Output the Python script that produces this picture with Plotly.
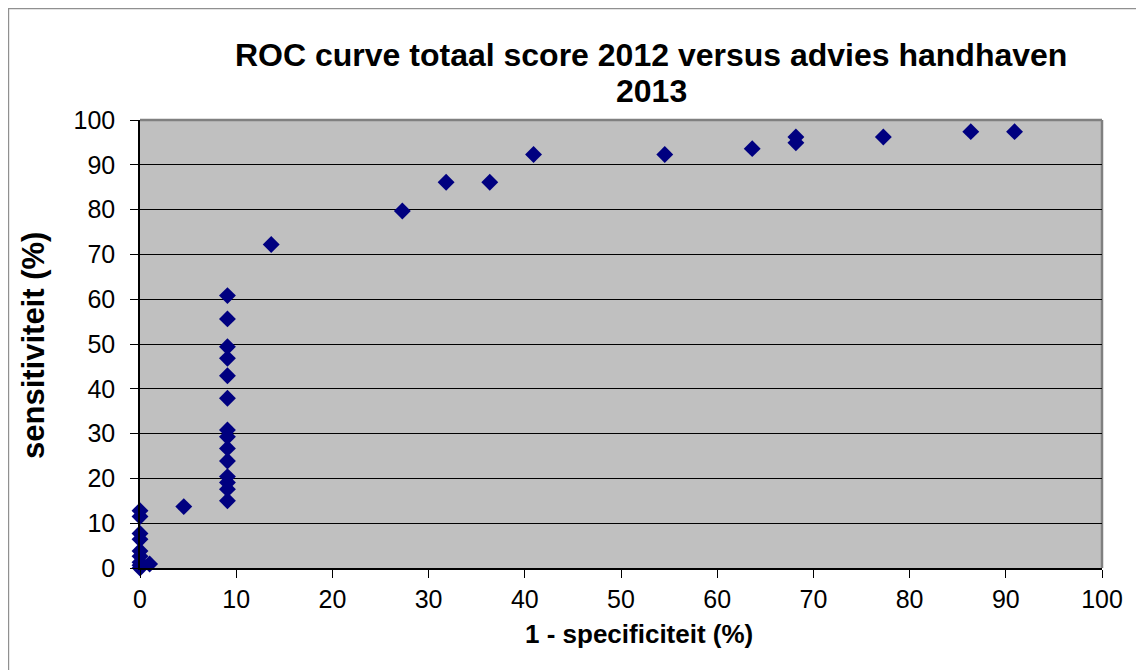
import plotly.graph_objects as go

# Data
fpr = [0, 0, 0, 0, 0, 0, 0, 0, 0, 1.0,
       4.55,
       9.09, 9.09, 9.09, 9.09, 9.09, 9.09, 9.09, 9.09, 9.09, 9.09, 9.09, 9.09, 9.09, 9.09,
       13.64, 27.27, 31.82, 36.36, 40.91, 54.55, 63.64, 68.18, 68.18, 77.27, 86.36, 90.91]
tpr = [0, 0.6, 1.3, 2.6, 3.8, 6.4, 7.7, 11.5, 12.8, 0.9,
       13.7,
       15.0, 17.6, 19.1, 20.4, 23.9, 26.7, 29.3, 30.8, 37.9, 42.9, 46.8, 49.4, 55.6, 60.8,
       72.2, 79.7, 86.1, 86.1, 92.3, 92.3, 93.6, 94.9, 96.2, 96.2, 97.4, 97.4]
tick_vals = [0, 10, 20, 30, 40, 50, 60, 70, 80, 90, 100]

title_line1 = "ROC curve totaal score 2012 versus advies handhaven"
title_line2 = "2013"
x_title = "1 - specificiteit (%)"
y_title = "sensitiviteit (%)"

FONT = "Liberation Sans, Arial, sans-serif"

fig = go.Figure()
fig.add_trace(go.Scatter(
    x=fpr, y=tpr, mode="markers",
    marker=dict(symbol="diamond", size=13, color="#000080", line=dict(width=0)),
    cliponaxis=False, showlegend=False, hoverinfo="x+y",
))

# page body has an 8px offset; plot area in screen px: x 140..1102, y 120..568
OFF = 8
PL, PR, PT, PB = 140, 1102, 120, 568
W, H = 1144, 670
pw, ph = PR - PL, PB - PT


def px_x(px):
    return (px - PL) / pw


def px_y(py):
    return (PB - py) / ph


fig.update_layout(
    width=W, height=H,
    margin=dict(l=PL - OFF, r=W - PR + OFF, t=PT - OFF, b=H - PB + OFF, autoexpand=False),
    paper_bgcolor="white",
    plot_bgcolor="#C0C0C0",
    font=dict(family=FONT, color="black", size=25),
    xaxis=dict(
        range=[0, 100], tickvals=tick_vals, showgrid=False, zeroline=False,
        showline=True, linecolor="black", linewidth=1.5,
        ticks="outside", ticklen=8, tickcolor="black", tickwidth=1.2,
        tickfont=dict(size=25, family=FONT), fixedrange=True,
    ),
    yaxis=dict(
        range=[0, 100], tickvals=tick_vals, showgrid=True, gridcolor="black", gridwidth=1.2,
        zeroline=False, showline=True, linecolor="black", linewidth=1.5,
        ticks="outside", ticklen=8, tickcolor="black", tickwidth=1.2,
        ticklabelstandoff=10,
        tickfont=dict(size=25, family=FONT), fixedrange=True,
    ),
    shapes=[
        # outer chart frame
        dict(type="rect", xref="paper", yref="paper",
             x0=px_x(8.6), x1=px_x(1170), y0=px_y(700), y1=px_y(8.6),
             line=dict(color="#909090", width=1.2), fillcolor="rgba(0,0,0,0)", layer="below"),
        # plot area top & right border
        dict(type="line", xref="paper", yref="paper", x0=0, x1=1, y0=1, y1=1,
             line=dict(color="#808080", width=2.5), layer="below"),
        dict(type="line", xref="paper", yref="paper", x0=1, x1=1, y0=0, y1=1,
             line=dict(color="#808080", width=2.5), layer="below"),
    ],
    annotations=[
        dict(text="<b>%s</b>" % title_line1, xref="paper", yref="paper",
             x=px_x(651), y=px_y(55), showarrow=False, xanchor="center", yanchor="middle",
             font=dict(size=32, family=FONT)),
        dict(text="<b>%s</b>" % title_line2, xref="paper", yref="paper",
             x=px_x(651), y=px_y(91), showarrow=False, xanchor="center", yanchor="middle",
             font=dict(size=32, family=FONT)),
        dict(text="<b>%s</b>" % x_title, xref="paper", yref="paper",
             x=px_x(639), y=px_y(634), showarrow=False, xanchor="center", yanchor="middle",
             font=dict(size=26, family=FONT)),
        dict(text="<b>%s</b>" % y_title, xref="paper", yref="paper",
             x=px_x(33), y=px_y(346), showarrow=False, xanchor="center", yanchor="middle",
             textangle=-90, font=dict(size=31, family=FONT)),
    ],
)

fig.write_html("out.html")
